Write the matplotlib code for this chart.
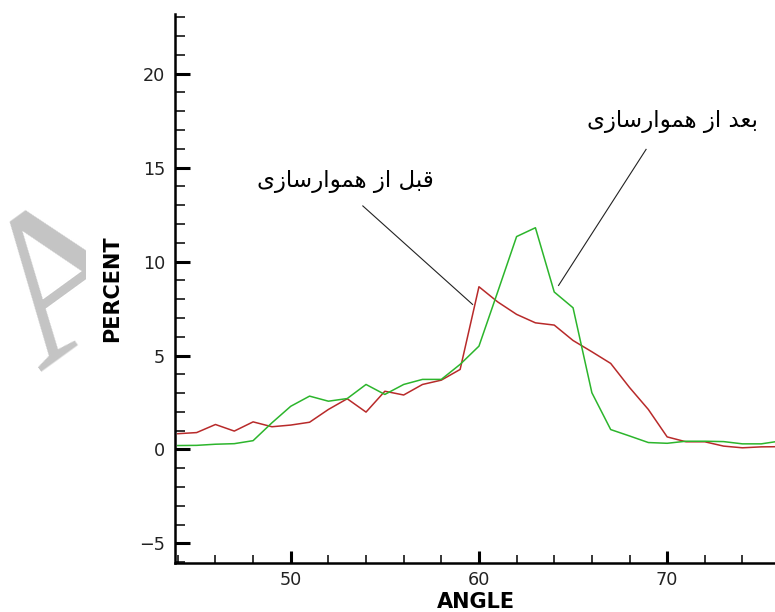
import numpy as np
import matplotlib
matplotlib.use('Agg')
import matplotlib.pyplot as plt
from matplotlib.ticker import MultipleLocator

# values
angle = [44, 45, 46, 47, 48, 49, 50, 51, 52, 53, 54, 55, 56, 57, 58, 59,
         60, 61, 62, 63, 64, 65, 66, 67, 68, 69, 70, 71, 72, 73, 74, 75, 76]
before = [0.84, 0.9, 1.33, 0.98, 1.47, 1.21, 1.3, 1.45, 2.13, 2.7, 1.99, 3.1,
          2.9, 3.46, 3.69, 4.26, 8.66, 7.85, 7.19, 6.74, 6.62, 5.8, 5.2, 4.58,
          3.3, 2.13, 0.67, 0.41, 0.41, 0.18, 0.09, 0.14, 0.15]
after = [0.21, 0.22, 0.28, 0.31, 0.47, 1.42, 2.3, 2.84, 2.57, 2.71, 3.46, 2.93,
         3.46, 3.73, 3.73, 4.53, 5.5, 8.4, 11.33, 11.8, 8.38, 7.54, 3.02, 1.06,
         0.72, 0.37, 0.33, 0.44, 0.44, 0.42, 0.3, 0.3, 0.45]

label_before = 'قبل از هموارسازی'
label_after = 'بعد از هموارسازی'
# text position and leader line ends (data coords)
before_text = (52.88, 14.27)
before_line = ((53.83, 12.96), (59.66, 7.72))
after_text = (70.28, 17.47)
after_line = ((68.88, 15.97), (64.23, 8.73))

# presentation forms: isolated, final, initial, medial
FORMS = {
    'ا': (0xFE8D, 0xFE8E, None, None),
    'ب': (0xFE8F, 0xFE90, 0xFE91, 0xFE92),
    'د': (0xFEA9, 0xFEAA, None, None),
    'ر': (0xFEAD, 0xFEAE, None, None),
    'ز': (0xFEAF, 0xFEB0, None, None),
    'س': (0xFEB1, 0xFEB2, 0xFEB3, 0xFEB4),
    'ع': (0xFEC9, 0xFECA, 0xFECB, 0xFECC),
    'ق': (0xFED5, 0xFED6, 0xFED7, 0xFED8),
    'ل': (0xFEDD, 0xFEDE, 0xFEDF, 0xFEE0),
    'م': (0xFEE1, 0xFEE2, 0xFEE3, 0xFEE4),
    'ه': (0xFEE9, 0xFEEA, 0xFEEB, 0xFEEC),
    'و': (0xFEED, 0xFEEE, None, None),
    'ی': (0xFEEF, 0xFEF0, 0xFBFE, 0xFBFF),
}


def shape(text):
    # no bidi/shaping in matplotlib, so do it by hand
    out = []
    for i, ch in enumerate(text):
        if ch not in FORMS:
            out.append(ch)
            continue
        prev = text[i - 1] if i > 0 else ''
        nxt = text[i + 1] if i + 1 < len(text) else ''
        jp = prev in FORMS and FORMS[prev][2] is not None
        jn = FORMS[ch][2] is not None and nxt in FORMS
        f = FORMS[ch]
        code = f[3] if (jp and jn) else f[1] if jp else f[2] if jn else f[0]
        out.append(chr(code))
    return ''.join(out)[::-1]


fig = plt.figure(figsize=(7.75, 6.12), dpi=100)

# grey watermark letter, cut off on the right
wax = fig.add_axes([0, 0, 86 / 775, 1])
wax.axis('off')
wax.text(0.131, 0.466, 'A', transform=fig.transFigure, fontsize=152,
         family='Liberation Serif', color='#c4c4c4', rotation=36,
         rotation_mode='anchor', ha='center', va='baseline', clip_on=True)

ax = fig.add_axes([175 / 775, 49 / 612, 600 / 775, 549.5 / 612])
ax.plot(angle, before, color='#b82a2a', lw=1.1)
ax.plot(angle, after, color='#2cb52c', lw=1.1)

for (x0, y0), (x1, y1) in [before_line, after_line]:
    ax.plot([x0, x1], [y0, y1], color='#222222', lw=0.8)
ax.text(*before_text, shape(label_before), family='DejaVu Sans', fontsize=16.5,
        ha='center', va='center')
ax.text(*after_text, shape(label_after), family='DejaVu Sans', fontsize=16.5,
        ha='center', va='center')

ax.set_xlim(43.85, 75.73)
ax.set_ylim(-6.04, 23.2)
for s in ['top', 'right']:
    ax.spines[s].set_visible(False)
for s in ['left', 'bottom']:
    ax.spines[s].set_linewidth(1.8)

ax.xaxis.set_major_locator(MultipleLocator(10))
ax.xaxis.set_minor_locator(MultipleLocator(2))
ax.yaxis.set_major_locator(MultipleLocator(5))
ax.yaxis.set_minor_locator(MultipleLocator(1))
ax.tick_params(axis='y', which='major', direction='in', length=11, width=2.2,
               labelsize=12.7, pad=7)
ax.tick_params(axis='y', which='minor', direction='in', length=7, width=1.1)
ax.tick_params(axis='x', which='major', direction='in', length=8.5, width=2.2,
               labelsize=12.7, pad=6)
ax.tick_params(axis='x', which='minor', direction='in', length=5.5, width=1.1)
for lab in ax.get_xticklabels() + ax.get_yticklabels():
    lab.set_color('#222222')

fig.text(112 / 775, 1 - 289 / 612, 'PERCENT', rotation=90, fontsize=15,
         fontweight='bold', ha='center', va='center')
fig.text(476 / 775, 1 - 602 / 612, 'ANGLE', fontsize=15, fontweight='bold',
         ha='center', va='center')

fig.savefig('out.png', dpi=100)
